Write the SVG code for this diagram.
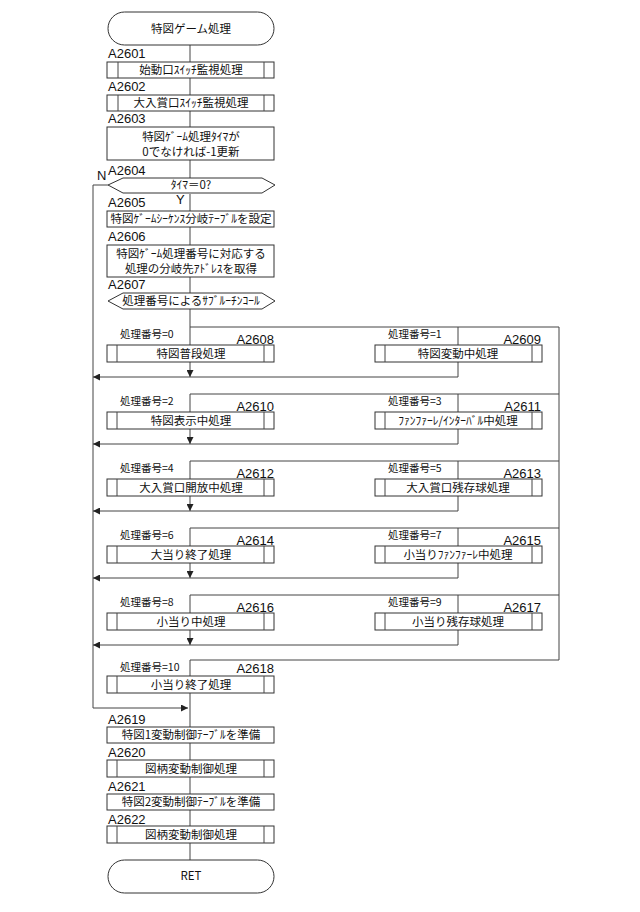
<svg xmlns="http://www.w3.org/2000/svg" width="640" height="912" viewBox="0 0 640 912">
<defs>
<marker id="ah" viewBox="0 0 10 10" refX="10" refY="5" markerWidth="7" markerHeight="7" orient="auto" markerUnits="userSpaceOnUse"><path d="M0,0 L10,5 L0,10 z" fill="#222"/></marker>
<style>
.s{fill:#fff;stroke:#333;stroke-width:1}
.l{fill:none;stroke:#444;stroke-width:1}
.t{font-family:"Noto Sans CJK JP","Liberation Sans",sans-serif;font-size:11.5px;fill:#111;text-anchor:middle}
.c{font-family:"Liberation Sans",sans-serif;font-size:13px;fill:#111}
.n{font-family:"Noto Sans CJK JP","Liberation Sans",sans-serif;font-size:10.5px;fill:#111}
</style>
</defs>
<rect width="640" height="912" fill="#fff"/>
<g id="connectors">
<path class="l" d="M190 45V62M190 78V95M190 111V127M190 160V178M190 194V211M190 227V245M190 277V293M190 309V327H559V660H190V676"/>
<path class="l" d="M108 185H93V708H188" marker-end="url(#ah)"/>
<path class="l" d="M190 693V727M190 743V760M190 777V794M190 810V826M190 843V860"/>
<g id="rows">
<path class="l" d="M190 327V345M458 327V345M190 394H559M190 394V412M458 394V412M190 461H559M190 461V479M458 461V479M190 528H559M190 528V546M458 528V546M190 595H559M190 595V613M458 595V613"/>
<path class="l" d="M190 362V377" marker-end="url(#ah)"/><path class="l" d="M458 362V377H93" marker-end="url(#ah)"/>
<path class="l" d="M190 429V444" marker-end="url(#ah)"/><path class="l" d="M458 429V444H93" marker-end="url(#ah)"/>
<path class="l" d="M190 496V511" marker-end="url(#ah)"/><path class="l" d="M458 496V511H93" marker-end="url(#ah)"/>
<path class="l" d="M190 563V578" marker-end="url(#ah)"/><path class="l" d="M458 563V578H93" marker-end="url(#ah)"/>
<path class="l" d="M190 630V645" marker-end="url(#ah)"/><path class="l" d="M458 630V645H93" marker-end="url(#ah)"/>
</g>
</g>
<g id="start"><rect class="s" x="108" y="12" width="166" height="33" rx="16.5"/><text class="t" x="191" y="33">特図ゲーム処理</text></g>
<g id="A2601"><text class="c" x="108" y="58">A2601</text><rect class="s" x="107" y="62" width="167" height="16"/><path class="l" d="M118 62V78M264 62V78"/><text class="t" x="191" y="74">始動口ｽｲｯﾁ監視処理</text></g>
<g id="A2602"><text class="c" x="108" y="91">A2602</text><rect class="s" x="107" y="95" width="167" height="16"/><path class="l" d="M118 95V111M264 95V111"/><text class="t" x="191" y="107">大入賞口ｽｲｯﾁ監視処理</text></g>
<g id="A2603"><text class="c" x="108" y="123">A2603</text><rect class="s" x="107" y="127" width="167" height="33"/><text class="t" x="191" y="141">特図ｹﾞｰﾑ処理ﾀｲﾏが</text><text class="t" x="191" y="156">0でなければ-1更新</text></g>
<g id="A2604"><text class="c" x="108" y="175">A2604</text><text class="c" x="97" y="180" font-size="11">N</text><polygon class="s" points="108,185 123,178 262,178 275,185 262,193 123,193"/><text class="t" x="191" y="189" font-size="10.5">ﾀｲﾏ＝0?</text><text class="c" x="176" y="204" font-size="11">Y</text></g>
<g id="A2605"><text class="c" x="108" y="207">A2605</text><rect class="s" x="107" y="211" width="167" height="16"/><text class="t" x="191" y="223" font-size="10.5">特図ｹﾞｰﾑｼｰｹﾝｽ分岐ﾃｰﾌﾞﾙを設定</text></g>
<g id="A2606"><text class="c" x="108" y="241">A2606</text><rect class="s" x="107" y="245" width="167" height="32"/><text class="t" x="191" y="258">特図ｹﾞｰﾑ処理番号に対応する</text><text class="t" x="191" y="273">処理の分岐先ｱﾄﾞﾚｽを取得</text></g>
<g id="A2607"><text class="c" x="108" y="289">A2607</text><polygon class="s" points="108,301 123,293 262,293 275,301 262,309 123,309"/><text class="t" x="191" y="305" font-size="10.5">処理番号によるｻﾌﾞﾙｰﾁﾝｺｰﾙ</text></g>
<g id="A2608"><text class="n" x="120" y="338">処理番号=0</text><text class="c" x="274" y="344" text-anchor="end">A2608</text><rect class="s" x="107" y="345" width="167" height="17"/><path class="l" d="M117 345V362M264 345V362"/><text class="t" x="191" y="358">特図普段処理</text></g>
<g id="A2609"><text class="n" x="388" y="338">処理番号=1</text><text class="c" x="541" y="344" text-anchor="end">A2609</text><rect class="s" x="375" y="345" width="167" height="17"/><path class="l" d="M385 345V362M532 345V362"/><text class="t" x="458" y="358">特図変動中処理</text></g>
<g id="A2610"><text class="n" x="120" y="405">処理番号=2</text><text class="c" x="274" y="411" text-anchor="end">A2610</text><rect class="s" x="107" y="412" width="167" height="17"/><path class="l" d="M117 412V429M264 412V429"/><text class="t" x="191" y="425">特図表示中処理</text></g>
<g id="A2611"><text class="n" x="388" y="405">処理番号=3</text><text class="c" x="541" y="411" text-anchor="end">A2611</text><rect class="s" x="375" y="412" width="167" height="17"/><path class="l" d="M385 412V429M532 412V429"/><text class="t" x="458" y="425" font-size="10.5">ﾌｧﾝﾌｧｰﾚ/ｲﾝﾀｰﾊﾞﾙ中処理</text></g>
<g id="A2612"><text class="n" x="120" y="472">処理番号=4</text><text class="c" x="274" y="478" text-anchor="end">A2612</text><rect class="s" x="107" y="479" width="167" height="17"/><path class="l" d="M117 479V496M264 479V496"/><text class="t" x="191" y="492">大入賞口開放中処理</text></g>
<g id="A2613"><text class="n" x="388" y="472">処理番号=5</text><text class="c" x="541" y="478" text-anchor="end">A2613</text><rect class="s" x="375" y="479" width="167" height="17"/><path class="l" d="M385 479V496M532 479V496"/><text class="t" x="458" y="492">大入賞口残存球処理</text></g>
<g id="A2614"><text class="n" x="120" y="539">処理番号=6</text><text class="c" x="274" y="545" text-anchor="end">A2614</text><rect class="s" x="107" y="546" width="167" height="17"/><path class="l" d="M117 546V563M264 546V563"/><text class="t" x="191" y="559">大当り終了処理</text></g>
<g id="A2615"><text class="n" x="388" y="539">処理番号=7</text><text class="c" x="541" y="545" text-anchor="end">A2615</text><rect class="s" x="375" y="546" width="167" height="17"/><path class="l" d="M385 546V563M532 546V563"/><text class="t" x="458" y="559">小当りﾌｧﾝﾌｧｰﾚ中処理</text></g>
<g id="A2616"><text class="n" x="120" y="606">処理番号=8</text><text class="c" x="274" y="612" text-anchor="end">A2616</text><rect class="s" x="107" y="613" width="167" height="17"/><path class="l" d="M117 613V630M264 613V630"/><text class="t" x="191" y="626">小当り中処理</text></g>
<g id="A2617"><text class="n" x="388" y="606">処理番号=9</text><text class="c" x="541" y="612" text-anchor="end">A2617</text><rect class="s" x="375" y="613" width="167" height="17"/><path class="l" d="M385 613V630M532 613V630"/><text class="t" x="458" y="626">小当り残存球処理</text></g>
<g id="A2618"><text class="n" x="120" y="671">処理番号=10</text><text class="c" x="274" y="673" text-anchor="end">A2618</text><rect class="s" x="107" y="676" width="167" height="17"/><path class="l" d="M117 676V693M264 676V693"/><text class="t" x="191" y="689">小当り終了処理</text></g>
<g id="A2619"><text class="c" x="108" y="724">A2619</text><rect class="s" x="107" y="727" width="167" height="16"/><text class="t" x="191" y="739">特図1変動制御ﾃｰﾌﾞﾙを準備</text></g>
<g id="A2620"><text class="c" x="108" y="757">A2620</text><rect class="s" x="107" y="760" width="167" height="17"/><path class="l" d="M117 760V777M264 760V777"/><text class="t" x="191" y="773">図柄変動制御処理</text></g>
<g id="A2621"><text class="c" x="108" y="791">A2621</text><rect class="s" x="107" y="794" width="167" height="16"/><text class="t" x="191" y="806">特図2変動制御ﾃｰﾌﾞﾙを準備</text></g>
<g id="A2622"><text class="c" x="108" y="824">A2622</text><rect class="s" x="107" y="826" width="167" height="17"/><path class="l" d="M117 826V843M264 826V843"/><text class="t" x="191" y="839">図柄変動制御処理</text></g>
<g id="end"><rect class="s" x="108" y="860" width="166" height="33" rx="16.5"/><text class="t" x="191" y="880" font-family="Liberation Sans,sans-serif" font-size="11">RET</text></g>
</svg>
